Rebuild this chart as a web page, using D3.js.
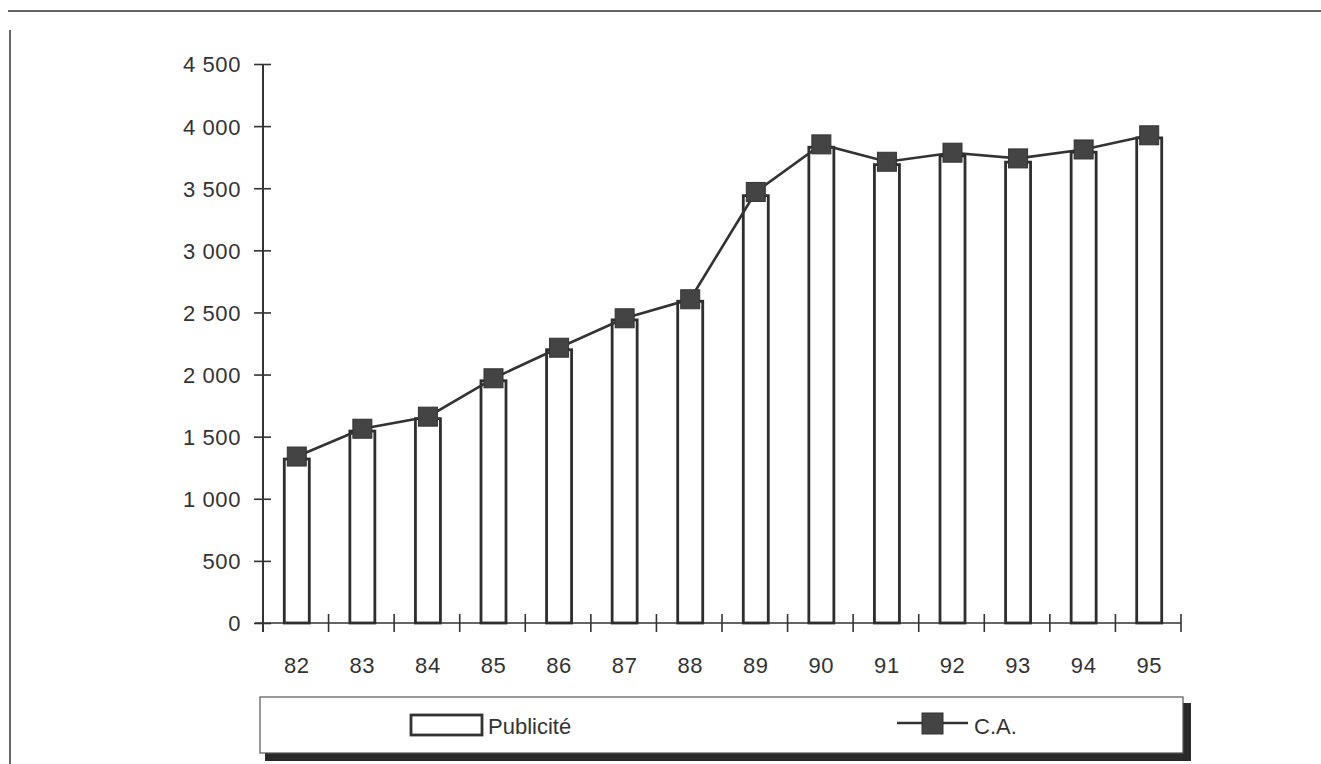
<!DOCTYPE html>
<html><head><meta charset="utf-8">
<script src="https://cdn.jsdelivr.net/npm/d3@7/dist/d3.min.js"></script>
<style>
html,body{margin:0;padding:0;background:#fff;}
svg{display:block;font-family:"Liberation Sans",Arial,sans-serif;}
</style></head>
<body>
<svg id="c" width="1321" height="764"></svg>
<script>
const years = ["82","83","84","85","86","87","88","89","90","91","92","93","94","95"];
const publicite = [1320,1545,1645,1950,2200,2440,2590,3440,3830,3690,3760,3710,3790,3905];
const ca = [1340,1564,1661,1970,2216,2453,2606,3470,3853,3713,3786,3740,3812,3926];
const yTicks = [0,500,1000,1500,2000,2500,3000,3500,4000,4500];
const seriesNames = ["Publicité","C.A."];

const svg = d3.select("#c");
const ink = "#333";
const x0 = 263, x1 = 1181, yTop = 64, yBot = 623;
const fs = 22;

// frame lines
svg.append("line").attr("x1",8).attr("x2",1321).attr("y1",11).attr("y2",11).attr("stroke","#666").attr("stroke-width",2);
svg.append("line").attr("x1",10).attr("x2",10).attr("y1",30).attr("y2",764).attr("stroke","#666").attr("stroke-width",2);

const x = d3.scaleBand().domain(years).range([x0,x1]).padding(0);
const y = d3.scaleLinear().domain([0,4500]).range([yBot,yTop]);
const fmt = v => d3.format(",")(v).replace(/,/g," ");

// y axis
const ya = svg.append("g").attr("transform",`translate(${x0},0)`)
  .call(d3.axisLeft(y).tickValues(yTicks).tickSize(0).tickPadding(22).tickFormat(fmt));
ya.select(".domain").remove();
ya.selectAll(".tick text").attr("font-size",fs).attr("fill",ink).attr("font-family","Liberation Sans, Arial, sans-serif").attr("letter-spacing","0.6px").attr("dy","0.36em");
ya.selectAll(".tick line").attr("x1",-9).attr("x2",8).attr("stroke",ink).attr("stroke-width",1.6);
svg.append("line").attr("x1",x0).attr("x2",x0).attr("y1",yTop).attr("y2",yBot+9).attr("stroke",ink).attr("stroke-width",2);

// x axis
const xa = svg.append("g").attr("transform",`translate(0,${yBot})`)
  .call(d3.axisBottom(x).tickSize(0).tickPadding(34));
xa.select(".domain").remove();
xa.selectAll(".tick text").attr("font-size",fs).attr("fill",ink).attr("font-family","Liberation Sans, Arial, sans-serif").attr("letter-spacing","0.6px").attr("dx","1");
svg.append("line").attr("x1",x0-8).attr("x2",x1).attr("y1",yBot).attr("y2",yBot).attr("stroke",ink).attr("stroke-width",1.6);
svg.append("g").selectAll("line").data(years.slice(1).concat(["end"])).join("line")
  .attr("x1",(d,i)=> i < years.length-1 ? x(d) : x1)
  .attr("x2",(d,i)=> i < years.length-1 ? x(d) : x1)
  .attr("y1",yBot-9).attr("y2",yBot+9).attr("stroke",ink).attr("stroke-width",1.6);

// bars
const bw = 25;
svg.append("g").selectAll("rect").data(publicite).join("rect")
  .attr("x",(d,i)=>x(years[i])+x.bandwidth()/2-bw/2+1)
  .attr("y",d=>y(d))
  .attr("width",bw).attr("height",d=>yBot-y(d))
  .attr("fill","#fff").attr("stroke","#2e2e2e").attr("stroke-width",2.8);

// line
const line = d3.line().x((d,i)=>x(years[i])+x.bandwidth()/2+1).y(d=>y(d));
svg.append("path").datum(ca).attr("d",line).attr("fill","none").attr("stroke",ink).attr("stroke-width",2.6);
const ms = 19;
svg.append("g").selectAll("rect").data(ca).join("rect")
  .attr("x",(d,i)=>x(years[i])+x.bandwidth()/2+1-ms/2)
  .attr("y",d=>y(d)-ms/2)
  .attr("width",ms).attr("height",ms)
  .attr("fill","#444").attr("stroke","#333").attr("stroke-width",1);

// legend
const lg = svg.append("g");
lg.append("rect").attr("x",265).attr("y",703).attr("width",926).attr("height",58).attr("fill","#2a2a2a");
lg.append("rect").attr("x",260).attr("y",697).attr("width",923).attr("height",56).attr("fill","#fff").attr("stroke","#555").attr("stroke-width",1.2);
lg.append("rect").attr("x",411).attr("y",715).attr("width",71).attr("height",20).attr("fill","#fff").attr("stroke",ink).attr("stroke-width",2.8);
lg.append("text").attr("x",488).attr("y",734).attr("font-size",fs).attr("fill",ink).text(seriesNames[0]);
lg.append("line").attr("x1",897).attr("x2",968).attr("y1",723).attr("y2",723).attr("stroke",ink).attr("stroke-width",2.4);
lg.append("rect").attr("x",922).attr("y",713).attr("width",21).attr("height",21).attr("fill","#444").attr("stroke","#333");
lg.append("text").attr("x",974).attr("y",734).attr("font-size",fs).attr("fill",ink).text(seriesNames[1]);
</script>
</body></html>
